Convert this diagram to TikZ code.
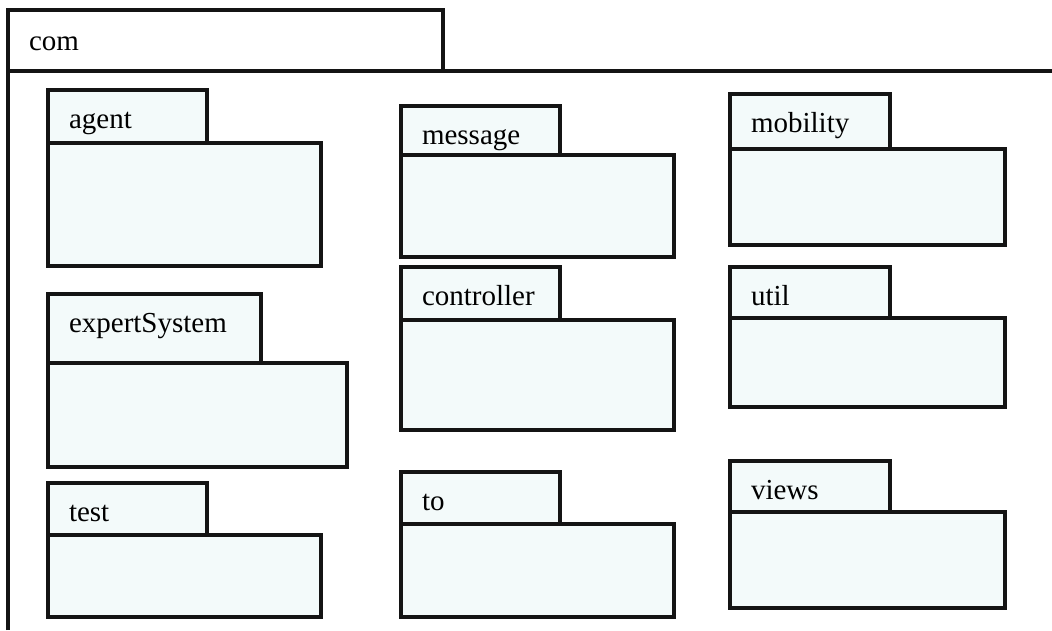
\documentclass[tikz,border=0pt]{standalone}
\usepackage{fontspec}
\setmainfont{Liberation Serif}
\definecolor{pkgfill}{RGB}{243,250,250}
\definecolor{inkline}{RGB}{20,20,20}
\tikzset{
  pkgbox/.style={draw=inkline, line width=3.3pt, fill=pkgfill, inner sep=0pt, outer sep=0pt},
  framebox/.style={draw=inkline, line width=3.3pt, fill=white, inner sep=0pt, outer sep=0pt},
  frameline/.style={draw=inkline, line width=3.3pt},
  pkglabel/.style={inner sep=0pt, outer sep=0pt, font=\fontsize{29}{34}\selectfont, text=black},
}
% #1 id, #2 label, #3 left, #4 tab top, #5 tab right, #6 tab bottom, #7 body right, #8 body bottom
\newcommand{\umlpkg}[8]{%
  \node[pkgbox, anchor=north west, minimum width={(#7-#3)*1pt}, minimum height={(#8-#6)*1pt}] (#1-body) at (#3,#6) {};
  \node[pkgbox, anchor=north west, minimum width={(#5-#3)*1pt}, minimum height={(#6-#4)*1pt}] (#1-tab) at (#3,#4) {};
  \node[pkglabel, anchor=base west] (#1-label) at ([xshift=21pt, yshift=-38.5pt]#1-tab.north west) {#2};
}
\begin{document}
\begin{tikzpicture}[x=1pt, y=-1pt]
  \useasboundingbox[fill=white] (0,0) rectangle (1052,630);
  % enclosing package "com"
  \node[framebox, anchor=north west, minimum width=435pt, minimum height=61pt] (comtab) at (8,10) {};
  \node[pkglabel, anchor=base west] (comlabel) at ([xshift=21pt, yshift=-40pt]comtab.north west) {com};
  \coordinate (frameR) at (1052,71);
  \coordinate (frameB) at (8,630);
  \draw[frameline] (frameB) -- (comtab.south west) -- (frameR);
  % nested packages
  \umlpkg{agent}{agent}{48}{90}{207}{143}{321}{266}
  \umlpkg{message}{message}{401}{106}{560}{155}{674}{257}
  \umlpkg{mobility}{mobility}{730}{94}{890}{149}{1005}{245}
  \umlpkg{expert}{expertSystem}{48}{294}{261}{363}{347}{467}
  \umlpkg{controller}{controller}{401}{267}{560}{320}{674}{430}
  \umlpkg{util}{util}{730}{267}{890}{318}{1005}{407}
  \umlpkg{test}{test}{48}{483}{207}{535}{321}{617}
  \umlpkg{to}{to}{401}{472}{560}{524}{674}{617}
  \umlpkg{views}{views}{730}{461}{890}{512}{1005}{608}
\end{tikzpicture}
\end{document}
